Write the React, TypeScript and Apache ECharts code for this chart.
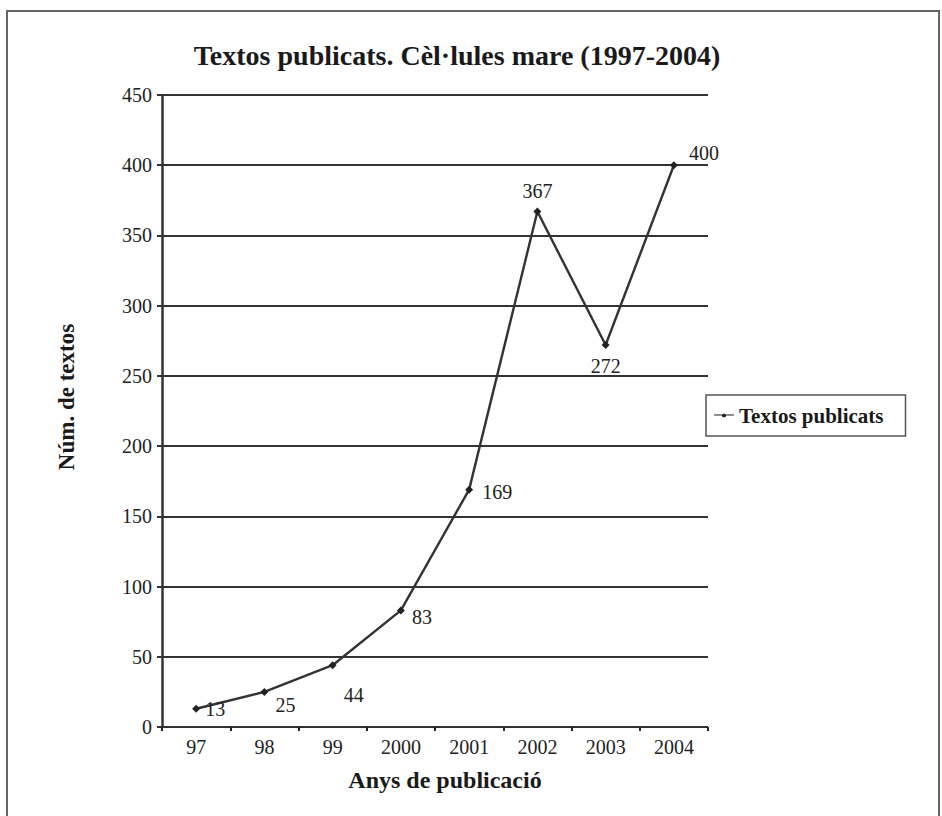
import React, { useEffect, useRef } from "react";
import * as echarts from "echarts";

const years = ["97", "98", "99", "2000", "2001", "2002", "2003", "2004"];
const textos = [13, 25, 44, 83, 169, 367, 272, 400];
const labelPositions = [
  { position: "right", offset: [0, 0] },
  { position: "right", offset: [2, 13] },
  { position: "right", offset: [2, 30] },
  { position: "right", offset: [2, 7] },
  { position: "right", offset: [4, 2] },
  { position: "top", offset: [0, -2] },
  { position: "bottom", offset: [0, 2] },
  { position: "right", offset: [6, -12] },
];

const FONT = "'Liberation Serif', 'Times New Roman', serif";

export default function App() {
  const ref = useRef<HTMLDivElement>(null);
  useEffect(() => {
    if (!ref.current) return;
    const chart = echarts.init(ref.current, null, { renderer: "svg" });
    chart.setOption({
      animation: false,
      backgroundColor: "#ffffff",
      textStyle: { fontFamily: FONT },
      title: {
        text: "Textos publicats. Cèl·lules mare (1997-2004)",
        left: 452,
        textAlign: "center",
        top: 36,
        textStyle: { fontFamily: FONT, fontSize: 28, fontWeight: "bold", color: "#1a1a1a" },
      },
      legend: {
        orient: "vertical",
        left: 706,
        top: 395,
        padding: [10, 22, 10, 8],
        borderColor: "#555",
        borderWidth: 1.5,
        itemWidth: 20,
        itemHeight: 8,
        itemGap: 4,
        textStyle: { fontFamily: FONT, fontSize: 21, fontWeight: "bold", color: "#1a1a1a" },
        data: [{ name: "Textos publicats", icon: "path://M0,4 L20,4 L20,5 L0,5 Z M8,4 L10,3 L12,4 L12,6 L10,7 L8,6 Z" }],
      },
      grid: { left: 162, right: 234, top: 95, bottom: 89, containLabel: false },
      xAxis: {
        type: "category",
        data: years,
        boundaryGap: true,
        name: "Anys de publicació",
        nameLocation: "middle",
        nameGap: 41,
        nameTextStyle: { fontFamily: FONT, fontSize: 24, fontWeight: "bold", color: "#1a1a1a", padding: [0, 0, 0, 20] },
        axisLine: { show: false },
        axisTick: { show: true, alignWithLabel: false, length: 4, lineStyle: { color: "#222", width: 2 } },
        axisLabel: { fontFamily: FONT, fontSize: 20, color: "#222", margin: 10 },
      },
      yAxis: {
        type: "value",
        min: 0,
        max: 450,
        interval: 50,
        name: "Núm. de textos",
        nameLocation: "middle",
        nameGap: 84,
        nameRotate: 90,
        nameTextStyle: { fontFamily: FONT, fontSize: 23, fontWeight: "bold", color: "#1a1a1a", padding: [0, 0, 0, 28] },
        axisLine: { show: true, lineStyle: { color: "#333", width: 2.5 } },
        axisTick: { show: true, length: 5, lineStyle: { color: "#333", width: 2 } },
        axisLabel: { fontFamily: FONT, fontSize: 20, color: "#222", margin: 10 },
        splitLine: { show: true, lineStyle: { color: "#333", width: 2 } },
      },
      series: [
        {
          name: "Textos publicats",
          type: "line",
          data: textos.map((v, i) => ({
            value: v,
            label: { show: true, position: labelPositions[i].position, offset: labelPositions[i].offset },
          })),
          symbol: "diamond",
          symbolSize: 8,
          itemStyle: { color: "#222" },
          lineStyle: { color: "#333", width: 2.4 },
          label: { fontFamily: FONT, fontSize: 20, color: "#222" },
          z: 5,
        },
      ],
      graphic: [
        {
          type: "rect",
          shape: { x: 7, y: 11, width: 932, height: 820 },
          style: { fill: "none", stroke: "#666", lineWidth: 2 },
          silent: true,
          z: -1,
        },
      ],
    });
    return () => chart.dispose();
  }, []);
  return (
    <div
      ref={ref}
      style={{ position: "absolute", left: 0, top: 0, width: 942, height: 816 }}
    />
  );
}
